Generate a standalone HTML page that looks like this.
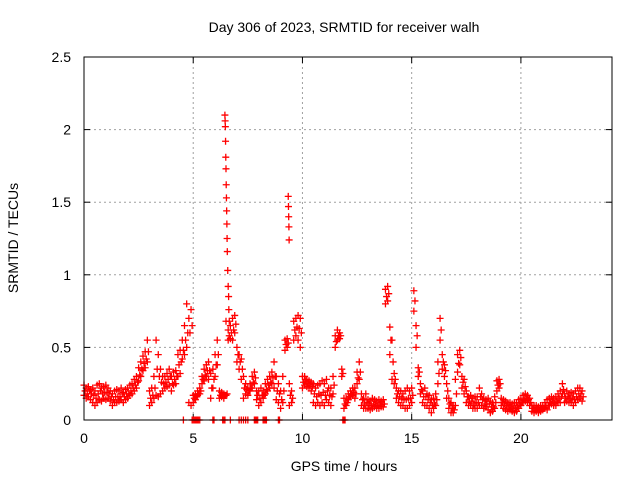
<!DOCTYPE html>
<html><head><meta charset="utf-8">
<style>
body{margin:0;background:#fff;}
svg{display:block;font-family:"Liberation Sans",sans-serif;}
</style></head>
<body>
<svg id="chart" width="640" height="480" viewBox="0 0 640 480">
<rect width="640" height="480" fill="#fff"/>
<text x="344" y="32" font-size="14" text-anchor="middle">Day 306 of 2023, SRMTID for receiver walh</text>
<text x="344" y="471" font-size="14" text-anchor="middle">GPS time / hours</text>
<text transform="translate(18,238) rotate(-90)" font-size="14" text-anchor="middle">SRMTID / TECUs</text>
<g id="grid"></g>
<g id="ticks"></g>
<g id="marks"></g>
<rect x="84" y="57" width="528" height="363" fill="none" stroke="#000" stroke-width="1"/>
</svg>
<script>
const xTicks=[0,5,10,15,20];
const yTicks=[0,0.5,1,1.5,2,2.5];
const yTickLabels=["0","0.5","1","1.5","2","2.5"];
const startHour=0, stepHour=0.1, midOffset=0.05;
const lowVals=[
.17,.15,.16,.14,.12,.10,.12,.14,.13,.15,
.14,.15,.13,.10,.12,.12,.13,.14,.12,.14,
.15,.17,.18,.20,.22,.27,.30,.34,.36,.40,
.10,.12,.15,.17,.16,.18,.20,.22,.23,.24,
.20,.24,.25,.30,.32,.42,.45,.50,.12,.10,
.12,.14,.17,.18,.25,.27,.30,.28,.15,.22,
.30,.38,.15,.16,.15,.17,.55,.56,.55,.60,
.40,.35,.28,.15,.18,.17,.20,.22,.25,.14,
.10,.12,.15,.18,.20,.22,.25,.22,.14,.12,
.08,.12,.48,.50,.10,.12,.55,.58,.55,.50,
.22,.24,.23,.22,.20,.12,.10,.12,.10,.12,
.10,.14,.12,.10,.18,.50,.55,.56,.30,.08,
.10,.14,.16,.17,.15,.25,.28,.10,.08,.08,
.08,.07,.08,.09,.08,.08,.09,.09,.80,.82,
.45,.28,.25,.15,.12,.10,.10,.08,.08,.10,
.12,.75,.50,.30,.18,.12,.10,.10,.08,.05,
.08,.10,.25,.55,.35,.30,.15,.08,.05,.05,
.10,.33,.38,.22,.18,.12,.10,.10,.08,.08,
.08,.10,.10,.08,.09,.07,.05,.06,.08,.20,
.22,.10,.08,.07,.06,.07,.06,.05,.06,.08,
.10,.12,.13,.12,.10,.06,.05,.06,.05,.06,
.07,.08,.07,.10,.11,.10,.10,.12,.12,.18,
.12,.13,.12,.12,.10,.12,.14,.15,.13];
const midVals=[
.20,.18,.20,.18,.17,.15,.18,.20,.18,.19,
.19,.18,.16,.14,.16,.16,.16,.18,.16,.18,
.18,.20,.22,.24,.26,.31,.35,.39,.42,.47,
.15,.17,.22,.35,.30,.26,.25,.26,.28,.30,
.25,.28,.30,.38,.40,.48,.55,.60,.60,.65,
.15,.16,.18,.20,.28,.31,.34,.34,.22,.28,
.38,.45,.17,.17,.17,.18,.58,.60,.62,.66,
.45,.40,.35,.22,.21,.20,.22,.26,.29,.17,
.15,.17,.17,.21,.24,.26,.29,.30,.20,.18,
.14,.20,.52,.53,.17,.15,.62,.64,.63,.60,
.26,.27,.25,.24,.23,.18,.16,.18,.17,.19,
.17,.20,.17,.16,.24,.54,.58,.58,.32,.11,
.12,.16,.18,.19,.18,.29,.33,.14,.11,.12,
.11,.10,.11,.11,.10,.11,.11,.11,.85,.87,
.55,.40,.28,.18,.16,.15,.14,.14,.15,.15,
.17,.82,.58,.33,.21,.16,.16,.14,.12,.10,
.11,.14,.32,.62,.40,.34,.20,.11,.08,.07,
.18,.39,.43,.26,.23,.16,.13,.13,.11,.12,
.12,.16,.14,.11,.11,.11,.09,.09,.12,.24,
.25,.12,.11,.10,.09,.09,.08,.08,.09,.11,
.12,.14,.15,.14,.12,.08,.07,.08,.07,.08,
.08,.10,.10,.12,.13,.12,.13,.15,.16,.21,
.15,.16,.15,.15,.14,.16,.18,.18,.16];
const highVals=[
.24,.22,.23,.21,.22,.20,.24,.25,.22,.23,
.24,.22,.20,.18,.20,.21,.20,.22,.19,.21,
.22,.24,.25,.28,.30,.36,.40,.44,.47,.55,
.20,.22,.30,.55,.45,.35,.30,.30,.32,.35,
.30,.33,.34,.45,.48,.55,.65,.80,.70,.76,
.17,.18,.20,.22,.30,.35,.38,.40,.32,.35,
.45,.55,.20,.19,.18,.68,.62,.65,.70,.72,
.50,.45,.42,.30,.25,.22,.25,.30,.33,.20,
.20,.22,.20,.25,.28,.30,.33,.40,.30,.25,
.20,.30,.55,.56,.25,.20,.68,.70,.72,.70,
.30,.30,.28,.27,.26,.25,.22,.24,.25,.27,
.25,.28,.22,.22,.30,.58,.62,.60,.35,.15,
.15,.18,.20,.22,.22,.33,.40,.18,.15,.18,
.14,.13,.15,.14,.13,.14,.13,.14,.90,.92,
.64,.55,.32,.22,.20,.20,.18,.20,.22,.20,
.22,.89,.65,.36,.25,.20,.22,.18,.17,.14,
.15,.18,.40,.70,.45,.38,.25,.15,.12,.10,
.28,.45,.48,.30,.28,.20,.16,.17,.15,.16,
.16,.22,.18,.15,.14,.15,.13,.12,.16,.27,
.28,.15,.14,.13,.12,.12,.11,.12,.12,.14,
.15,.17,.18,.17,.15,.10,.10,.10,.09,.10,
.10,.12,.14,.15,.16,.15,.16,.18,.20,.25,
.18,.20,.18,.19,.18,.20,.22,.22,.20];
const spikeTimes=[6.45,6.46,6.47,6.48,6.49,6.5,6.51,6.52,6.53,6.54,6.55,6.56,6.58,6.6,6.62,6.63,6.65,9.35,9.36,9.37,9.38,9.39];
const spikeVals=[2.1,2.06,2.02,1.92,1.81,1.73,1.62,1.53,1.44,1.35,1.25,1.16,1.03,0.92,0.85,0.76,0.68,1.54,1.47,1.40,1.33,1.24];
const zeroTimes=[4.55,4.95,5.0,5.05,5.1,5.15,5.2,5.25,5.3,5.9,5.95,6.35,6.4,6.45,6.7,7.1,7.2,7.3,7.4,7.5,7.8,7.85,7.9,7.95,8.2,8.25,8.3,8.35,8.9,8.95,11.85,11.9,11.95];

const X0=84,X1=612,Y0=420,Y1=57,XMAX=24.17,YMAX=2.5;
const xs=v=>X0+v/XMAX*(X1-X0);
const ys=v=>Y0-v/YMAX*(Y0-Y1);
const NS="http://www.w3.org/2000/svg";
function mk(tag,attrs,parent){const e=document.createElementNS(NS,tag);for(const k in attrs)e.setAttribute(k,attrs[k]);parent.appendChild(e);return e;}
const grid=document.getElementById('grid'),ticks=document.getElementById('ticks'),marks=document.getElementById('marks');
const svg=document.getElementById('chart');
xTicks.forEach(t=>{
  const x=xs(t);
  if(t>0){const g=mk('line',{x1:x,x2:x,y1:Y1,y2:Y0,stroke:'#a0a0a0','stroke-dasharray':'2,3'},grid);
  
  }
  mk('line',{x1:x,x2:x,y1:Y0,y2:Y0-6,stroke:'#000'},ticks);
  mk('line',{x1:x,x2:x,y1:Y1,y2:Y1+6,stroke:'#000'},ticks);
  const l=mk('text',{x:x,y:443,'font-size':14,'text-anchor':'middle'},svg);
  l.textContent=String(t);
  
  
});
yTicks.forEach((t,i)=>{
  const y=ys(t);
  if(t>0&&t<YMAX){const g=mk('line',{x1:X0,x2:X1,y1:y,y2:y,stroke:'#a0a0a0','stroke-dasharray':'2,3'},grid);
  
  }
  mk('line',{x1:X0,x2:X0+6,y1:y,y2:y,stroke:'#000'},ticks);
  mk('line',{x1:X1,x2:X1-6,y1:y,y2:y,stroke:'#000'},ticks);
  const l=mk('text',{x:71,y:y+5,'font-size':14,'text-anchor':'end'},svg);
  l.textContent=yTickLabels[i];
  
  
});
function plus(t,v){
  const x=xs(t),y=ys(v);
  const p=mk('path',{d:`M${x-3.5},${y}h7M${x},${y-3.5}v7`,stroke:'#f00','stroke-width':1.3,fill:'none'},marks);
  
  
}
lowVals.forEach((v,i)=>plus(startHour+i*stepHour,v));
highVals.forEach((v,i)=>plus(startHour+i*stepHour,v));
midVals.forEach((v,i)=>plus(startHour+midOffset+i*stepHour,v));
spikeTimes.forEach((t,i)=>plus(t,spikeVals[i]));
zeroTimes.forEach(t=>plus(t,0));
</script>
</body></html>
